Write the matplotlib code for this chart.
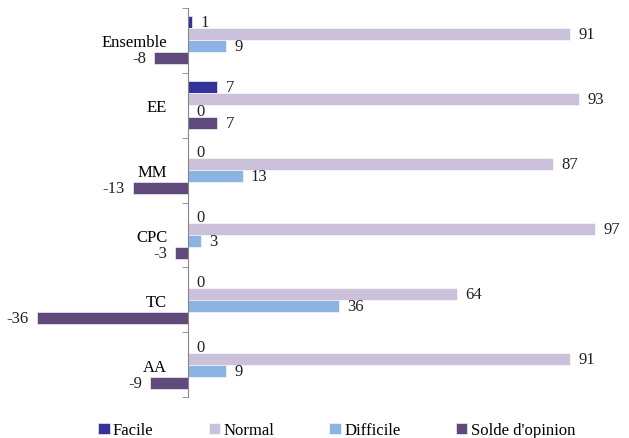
import numpy as np
import matplotlib.pyplot as plt

categories = ['Ensemble', 'EE', 'MM', 'CPC', 'TC', 'AA']
series_names = ['Facile', 'Normal', 'Difficile', "Solde d'opinion"]
facile = [1, 7, 0, 0, 0, 0]
normal = [91, 93, 87, 97, 64, 91]
difficile = [9, 0, 13, 3, 36, 9]
solde = [-8, 7, -13, -3, -36, -9]
colors = ['#333399', '#CCC1DA', '#8DB3E2', '#604A7B']

plt.rcParams['font.family'] = ['Liberation Serif', 'DejaVu Serif']
plt.rcParams['font.size'] = 12

fig = plt.figure(figsize=(6.29, 4.39), dpi=100)
ax = fig.add_axes([20 / 629, 41 / 439, 599 / 629, 389 / 439])

y = np.arange(len(categories))
h = 0.185
allSeries = [facile, normal, difficile, solde]
for j, (vals, name, col) in enumerate(zip(allSeries, series_names, colors)):
    bars = ax.barh(y + (j - 1.5) * h, vals, height=h, color=col, label=name,
                   edgecolor='white', linewidth=0.4)
    ax.bar_label(bars, padding=6, fontsize=12, color='#222222')

ax.set_xlim(-40, 102.6)
ax.set_ylim(5.5, -0.5)

for side in ['top', 'right', 'bottom']:
    ax.spines[side].set_visible(False)
ax.spines['left'].set_position(('data', 0))
ax.spines['left'].set_color('#868686')
ax.set_xticks([])
ax.set_yticks(y)
ax.set_yticklabels(categories)
ax.tick_params(axis='y', which='major', length=0, pad=15)
ax.set_yticks(np.arange(-0.5, 6, 1), minor=True)
ax.tick_params(axis='y', which='minor', length=4, color='#868686')

fig.legend(loc='lower center', bbox_to_anchor=(0.535, -0.035), ncol=4, frameon=False,
           handlelength=0.7, handleheight=0.7, handletextpad=0.2, columnspacing=3.3,
           prop={'family': 'Liberation Serif', 'size': 12})

fig.savefig('out.png', dpi=100)
